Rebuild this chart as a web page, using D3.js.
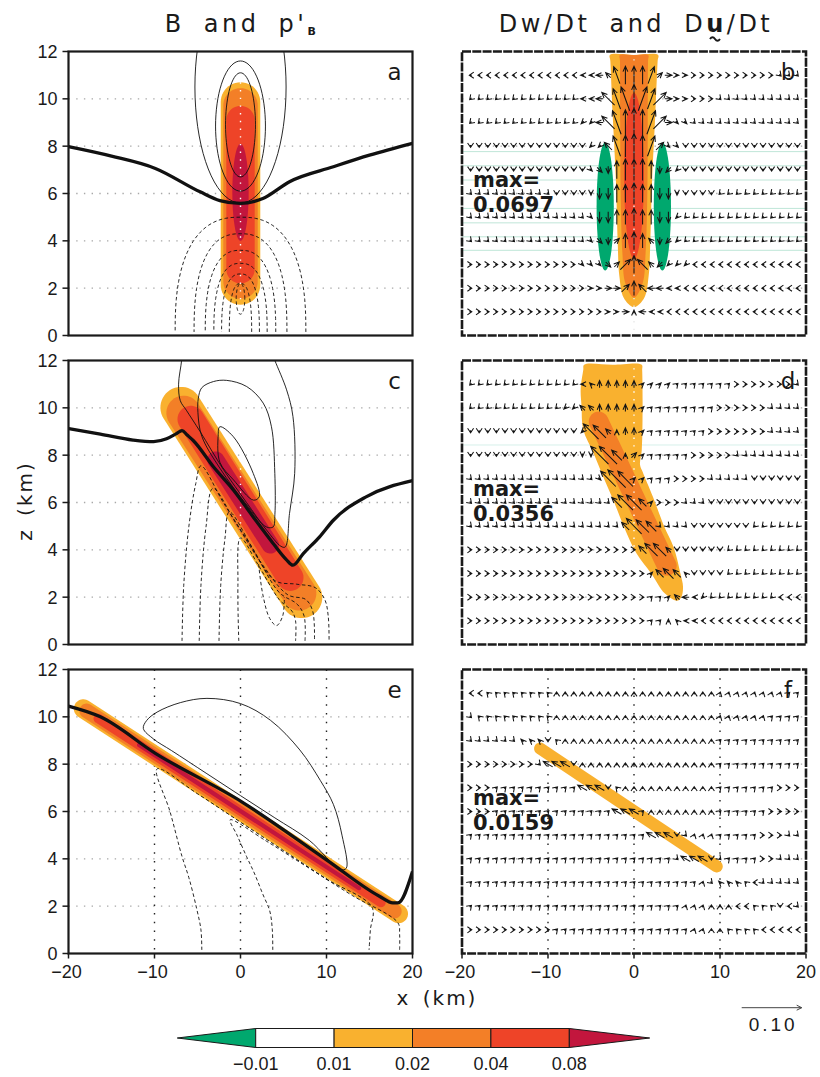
<!DOCTYPE html>
<html>
<head>
<meta charset="utf-8">
<script src="https://cdn.jsdelivr.net/npm/d3@7"></script>
<style>
  body { margin: 0; background: #fff; }
  svg { display: block; }
  text { font-family: "Liberation Sans", Arial, sans-serif; fill: #1a1a1a; }
  .geo { font-family: "DejaVu Sans", "Liberation Sans", sans-serif; }
</style>
</head>
<body>
<svg id="chart" width="820" height="1077"></svg>
<script>
// ---- axes ----
var xTicks = [-20, -10, 0, 10, 20];
var zTicks = [0, 2, 4, 6, 8, 10, 12];
var zGrid = [2, 4, 6, 8, 10];
var xDotted = [-10, 0, 10];

// ---- shading levels (colour bar) ----
var shadeLabels = ["\u22120.01", "0.01", "0.02", "0.04", "0.08"];
var shadeColours = ["#00a86e", "#ffffff", "#f9b12f", "#f37f27", "#ee4428", "#c2163d"];

var maxLabels = ["0.0697", "0.0356", "0.0159"];
var refVector = 0.10;

// ---- thick black line (left column) ----
var thickA = [[-20, 7.98], [-15, 7.58], [-9.9, 7.06], [-4.7, 6.07], [-2.4, 5.7], [0, 5.58], [2.6, 5.79], [5.7, 6.5], [10.8, 7.13], [15, 7.62], [20, 8.12]];
var thickC = [[-20, 9.12], [-16.3, 8.89], [-12.5, 8.64], [-10.1, 8.57], [-8.6, 8.69], [-7.5, 8.9], [-6.8, 9.04], [-6.2, 8.85], [-5.5, 8.62], [-3.15, 7.51], [-0.83, 6.53], [1.48, 5.39], [3.8, 4.27], [5.3, 3.6], [6.1, 3.35], [7.3, 3.84], [9.2, 4.55], [10.8, 5.25], [14.6, 6.24], [20, 6.92]];
var thickE = [[-20, 10.45], [-16.3, 10.0], [-9.9, 8.46], [0.1, 6.42], [10.0, 3.96], [16.2, 2.41], [17.7, 2.14], [18.3, 2.14], [20, 3.47]];

// ---- p'B contours ----
// panel a: solid ellipses [x, z, half width, half height]
var posA = [[0, 8.9, 1.74, 2.2], [0, 8.85, 2.9, 2.75], [0, 10.5, 5.3, 4.9]];
// panel a: dashed arches standing on the ground [half width, top]
var negA = [[7.6, 5.0], [5.4, 4.3], [4.1, 3.6], [3.1, 3.05], [2.2, 2.6], [1.3, 2.2]];
var negLoopA = [[0, 1.55, 0.5, 0.65]];

var posC = [
  {closed: false, pts: [[-6.8, 12.4], [-6.85, 12], [-7.2, 11.0], [-7.0, 10.3], [-6.3, 9.9], [-4.7, 9.0], [-2.0, 7.4], [0.7, 6.0], [3.0, 4.85], [4.7, 4.15], [5.2, 4.12], [5.7, 5.54], [6.3, 7.23], [6.1, 9.63], [5.36, 10.76], [4.0, 12.0], [3.6, 12.4]]},
  {closed: true, pts: [[-4.9, 10.41], [-4.5, 10.85], [-3.15, 11.11], [-1.6, 11.16], [0.72, 10.9], [2.64, 10.2], [3.6, 9.2], [3.99, 7.23], [4.0, 5.5], [3.8, 4.97], [3.0, 4.97], [0.72, 5.9], [-2.4, 7.45], [-4.5, 8.8], [-4.95, 9.8]]},
  {closed: true, pts: [[-2.4, 9.2], [-0.83, 8.78], [1.48, 7.23], [2.18, 6.24], [1.5, 6.1], [-0.8, 6.95], [-2.4, 7.7], [-2.6, 8.8]]}
];
var negC = [
  {closed: false, pts: [[-6.8, 0.15], [-6.6, 2.5], [-6.0, 5.0], [-5.2, 6.8], [-4.6, 7.55], [-2.0, 6.0], [1.0, 4.3], [4.0, 2.7], [6.5, 2.55], [8.7, 2.4], [9.8, 1.9], [10.2, 1.2], [10.3, 0.15]]},
  {closed: false, pts: [[-4.8, 0.15], [-4.6, 2.5], [-4.0, 5.0], [-3.2, 6.6], [-0.5, 5.1], [2.5, 3.4], [5.5, 2.1], [7.6, 1.9], [8.4, 1.4], [8.6, 0.15]]},
  {closed: false, pts: [[-2.5, 0.15], [-2.3, 2.5], [-1.8, 4.5], [-1.3, 5.6], [1.5, 4.0], [4.5, 2.2], [6.6, 1.7], [7.4, 1.2], [7.5, 0.15]]},
  {closed: false, pts: [[-0.2, 0.15], [-0.3, 2.5], [0.0, 4.5], [2.0, 3.4], [4.5, 1.9], [6.0, 1.4], [6.4, 1.0], [6.4, 0.15]]},
  {closed: false, pts: [[2.1, 3.4], [2.6, 2.1], [3.4, 1.1], [4.2, 0.8], [4.9, 1.2], [5.1, 2.0]]}
];
var posE = [
  {closed: true, pts: [[-11.3, 9.51], [-10.9, 9.85], [-9.7, 10.2], [-7.0, 10.6], [-3.9, 10.78], [0, 10.56], [3.5, 9.85], [6.9, 8.6], [9.3, 7.3], [10.8, 6.3], [11.8, 5.0], [12.3, 3.6], [11.6, 3.55], [8, 4.78], [4, 5.73], [0, 6.67], [-4, 7.62], [-8, 8.57], [-10.1, 9.06]]}
];
var negE = [
  {closed: false, pts: [[-4.5, 0.15], [-4.6, 1.0], [-5.1, 1.9], [-6.0, 3.2], [-6.8, 4.1], [-8.2, 6.0], [-9.7, 7.8], [-5, 6.75], [0, 5.55], [5, 4.35], [10, 3.15], [15.3, 1.95], [15.1, 1.0], [14.95, 0.15]]},
  {closed: false, pts: [[3.75, 0.15], [3.7, 1.0], [3.4, 1.8], [2.6, 2.5], [1.6, 3.4], [0.7, 4.1], [-0.4, 5.0], [-1.2, 5.65], [3, 4.75], [8, 3.6], [13, 2.45], [18.3, 1.3], [18.5, 0.8], [18.5, 0.15]]}
];

// ---- shaded regions (c = index into shadeColours) ----
var fillsA = [
  {c: 2, capsule: [[0, 1.3], [0, 10.7]], half: 2.3},
  {c: 3, capsule: [[0, 1.55], [0, 10.45]], half: 2.0},
  {c: 4, capsule: [[0, 2.2], [0, 9.7]], half: 1.65},
  {c: 5, ellipse: [0, 6.05], rx: 0.95, rz: 2.05}
];
var fillsC = [
  {c: 2, capsule: [[-8.2, 10.75], [8.4, 1.25]], half: 2.4},
  {c: 3, capsule: [[-7.7, 10.4], [7.9, 1.55]], half: 2.0},
  {c: 4, capsule: [[-6.6, 10.0], [6.6, 2.35]], half: 1.55},
  {c: 5, capsule: [[-3.4, 8.1], [4.0, 3.9]], half: 1.0}
];
var fillsE = [
  {c: 2, capsule: [[-19.2, 10.56], [19.3, 1.46]], half: 1.1},
  {c: 3, capsule: [[-18.6, 10.42], [18.6, 1.62]], half: 0.85},
  {c: 4, capsule: [[-17.0, 10.04], [16.8, 2.05]], half: 0.56},
  {c: 5, capsule: [[-12.0, 8.86], [14.0, 2.71]], half: 0.25}
];
var fillsB = [
  {c: 0, ellipse: [-3.35, 5.45], rx: 1.0, rz: 2.7},
  {c: 0, ellipse: [3.3, 5.45], rx: 1.0, rz: 2.7},
  {c: 2, poly: [[-2.8, 11.85], [0, 11.85], [2.8, 11.85], [2.75, 11.6], [2.5, 9.5], [2.1, 6.5], [1.9, 4], [1.7, 2.5], [1.2, 1.6], [0, 1.2], [-1.2, 1.6], [-1.7, 2.5], [-1.9, 4], [-2.1, 6.5], [-2.5, 9.5], [-2.75, 11.6]]},
  {c: 3, poly: [[-1.65, 11.85], [0, 11.85], [1.65, 11.85], [1.63, 11.6], [1.6, 9], [1.55, 6], [1.35, 3.5], [1.0, 2.2], [0, 1.6], [-1.0, 2.2], [-1.35, 3.5], [-1.55, 6], [-1.6, 9], [-1.63, 11.6]]},
  {c: 4, ellipse: [0, 6.75], rx: 1.15, rz: 3.5}
];
var fillsD = [
  {c: 2, poly: [[-5.8, 11.82], [-2.5, 11.82], [0.9, 11.82], [0.95, 11.6], [1.0, 10.0], [0.9, 8.2], [0.7, 7.6], [1.0, 7.3], [2.2, 6.24], [3.5, 5.0], [4.6, 4.12], [5.4, 3.0], [5.7, 2.43], [5.5, 2.0], [5.0, 1.85], [3.6, 2.15], [2.0, 3.0], [0.3, 3.84], [-1.2, 5.0], [-2.4, 6.1], [-3.6, 7.1], [-4.7, 8.08], [-5.9, 9.07], [-6.1, 10.06], [-6.2, 10.8], [-5.9, 11.6]]},
  {c: 3, capsule: [[-4.6, 9.8], [4.3, 2.95]], half: 1.15}
];
var fillsF = [
  {c: 2, capsule: [[-11.5, 8.8], [10.2, 3.54]], half: 0.7}
];
// faint seams visible in the shading of panels b and d
var seamsB = [7.77, 7.17, 6.57, 5.37, 4.76, 4.17, 3.6];
var seamsD = [8.43];

// ---- acceleration vectors ----
var vecX = [-19, -18, -17, -16, -15, -14, -13, -12, -11, -10, -9, -8, -7, -6, -5, -4, -3, -2, -1, 0, 1, 2, 3, 4, 5, 6, 7, 8, 9, 10, 11, 12, 13, 14, 15, 16, 17, 18, 19];
var vecZ = [11, 10, 9, 8, 7, 6, 5, 4, 3, 2, 1];
// direction code (numpad style) -> degrees
var dirAngle = {"6": 0, "9": 45, "e": 70, "8": 90, "q": 110, "7": 135, "a": 150, "4": 180, "1": 225, "2": 270, "3": 315};
var magStep = 0.006;   // one magnitude digit

var dirB = [
  "4444444444444444" + "7q888e9" + "6666666666666" + "333",
  "1111111111111" + "4447qq8ee96" + "66666" + "3333333333",
  "111111111111111" + "47q888e96" + "333333333333333",
  "22222222222222" + "117q888e933" + "22222222222222",
  "22222222222222" + "33288888211" + "22222222222222",
  "3333333333" + "2222222" + "88888" + "2222222" + "1111111111",
  "333333333333333" + "22" + "88888" + "22" + "111111111111111",
  "3333333333333333" + "2988872" + "1111111111111111",
  "6666666666666" + "3333" + "99877" + "1111" + "4444444444444",
  "666666666666666666" + "987" + "444444444444444444",
  "6666666666666666666" + "8" + "4444444444444444444"
];
var magB = [
  "0000000000000" + "1122555552211" + "0000000000000",
  "0000000000000" + "1125678765211" + "0000000000000",
  "0000000000000" + "1125778775211" + "0000000000000",
  "00000000000000" + "11366766311" + "00000000000000",
  "00000000000000" + "12256665221" + "00000000000000",
  "00000000000000" + "13355655331" + "00000000000000",
  "00000000000000" + "13344544331" + "00000000000000",
  "00000000000000" + "12224542221" + "00000000000000",
  "0000000000000" + "1112245422111" + "0000000000000",
  "00000000000000" + "11223432211" + "00000000000000",
  "0000000000000000" + "1121211" + "0000000000000000"
];
var dirD = [
  "1111111111111" + "47" + "88888" + "99999999999" + "6666666" + "3",
  "1111111111111" + "77" + "88888" + "999999999" + "666666" + "3333",
  "2222222222222" + "1" + "777" + "888" + "99999999" + "6666666" + "3333",
  "222222222222222" + "777" + "8" + "9999999" + "66666" + "33333333",
  "3333333333333333" + "777" + "99999" + "6666" + "33333" + "222222",
  "33333333333333333" + "7777" + "9" + "666" + "333" + "22222222222",
  "333333333333333333" + "7777" + "3333" + "2222222" + "111111",
  "66666666666666666666" + "7777" + "222222" + "111111111",
  "666666666666666666666" + "97777" + "2222" + "111111111",
  "666666666666666666666" + "999744" + "111111111" + "444",
  "666666666666666666666" + "9987" + "44444444444444"
];
var magD = [
  "0000000000000" + "11222221111" + "000000000000000",
  "00000000000" + "1122222221" + "000000000000000000",
  "0000000000000" + "16521221" + "000000000000000000",
  "0000000000000" + "11774121" + "000000000000000000",
  "000000000000000" + "167611" + "000000000000000000",
  "00000000000000000" + "46631" + "00000000000000000",
  "000000000000000000" + "3654" + "00000000000000000",
  "00000000000000000000" + "3552" + "000000000000000",
  "000000000000000000000" + "13431" + "0000000000000",
  "000000000000000000000" + "0012211" + "00000000000",
  "000000000000000000000" + "001111" + "000000000000"
];
var dirF = [
  "44" + "77777777" + "8888888888888888888" + "eeeeeeee" + "99",
  "3" + "777777777" + "8888888888888888888" + "eeeeee" + "9999",
  "333333" + "777" + "2" + "7" + "888888888888888888" + "9999999999",
  "66666666" + "3" + "aaa" + "2" + "8888888888888888" + "9999999999",
  "666" + "9999999999" + "aaa" + "2" + "7" + "88888888888" + "9999999" + "666",
  "666" + "99999999999999" + "aaa" + "9" + "88888888" + "999999" + "6666",
  "999999999999999999999" + "aaa" + "2" + "3" + "eee" + "99999" + "666" + "33",
  "999999999999999999999999" + "3" + "aaa" + "2" + "3" + "9999" + "66" + "333",
  "999999999999999999999999999" + "e" + "3" + "777" + "7" + "4" + "33333",
  "9999999999999999999999999" + "eee" + "888" + "44" + "777" + "2" + "4" + "3",
  "6666666666" + "9999999999999999" + "ee" + "88" + "7777" + "44444"
];
var magF = [
  "",
  "",
  "000000" + "111",
  "000000000" + "333",
  "0000000000000" + "333",
  "00000000000000000" + "333",
  "000000000000000000000" + "333",
  "0000000000000000000000000" + "333",
  "00000000000000000000000000000" + "111",
  "",
  ""
];

[dirB, dirD, dirF].forEach(function (rows, p) {
  rows.forEach(function (r, i) {
    if (r.length !== vecX.length) throw new Error("vector row " + p + "/" + i + " has " + r.length);
  });
});

// ---- layout ----
var svg = d3.select("#chart");
var plotW = 344, plotH = 284;
var colLeft = [68.5, 462];
var rowTop = [51.5, 360.5, 669.5];
var vecLen = d3.scaleLinear().domain([0, refVector]).range([0, 60]);

function scalesFor(col, row) {
  var x0 = colLeft[col], y0 = rowTop[row];
  return {
    x: d3.scaleLinear().domain([-20, 20]).range([x0, x0 + plotW]),
    z: d3.scaleLinear().domain([0, 12]).range([y0 + plotH, y0])
  };
}

function ellipsePts(cx, cz, rx, rz, sc) {
  var pts = [];
  for (var i = 0; i <= 72; i++) {
    var t = 2 * Math.PI * i / 72;
    pts.push([sc.x(cx + rx * Math.cos(t)), sc.z(cz + rz * Math.sin(t))]);
  }
  return pts;
}

function capsulePts(p0, p1, w) {
  var dx = p1[0] - p0[0], dy = p1[1] - p0[1], len = Math.sqrt(dx * dx + dy * dy);
  var ux = dx / len, uy = dy / len, nx = -uy, ny = ux;
  var a = [p0[0] + ux * w, p0[1] + uy * w], b = [p1[0] - ux * w, p1[1] - uy * w];
  var pts = [], i, t;
  for (i = 0; i <= 24; i++) {
    t = Math.PI / 2 - Math.PI * i / 24;
    pts.push([b[0] + w * (ux * Math.cos(t) + nx * Math.sin(t)), b[1] + w * (uy * Math.cos(t) + ny * Math.sin(t))]);
  }
  for (i = 0; i <= 24; i++) {
    t = -Math.PI / 2 - Math.PI * i / 24;
    pts.push([a[0] + w * (ux * Math.cos(t) + nx * Math.sin(t)), a[1] + w * (uy * Math.cos(t) + ny * Math.sin(t))]);
  }
  return pts;
}

function drawFills(g, sc, fills) {
  var kx = sc.x(1) - sc.x(0);
  fills.forEach(function (f) {
    var d;
    if (f.capsule) {
      d = d3.line()(capsulePts([sc.x(f.capsule[0][0]), sc.z(f.capsule[0][1])],
                               [sc.x(f.capsule[1][0]), sc.z(f.capsule[1][1])], f.half * kx)) + "Z";
    } else if (f.ellipse) {
      d = d3.line()(ellipsePts(f.ellipse[0], f.ellipse[1], f.rx, f.rz, sc)) + "Z";
    } else {
      d = d3.line().x(function (p) { return sc.x(p[0]); }).y(function (p) { return sc.z(p[1]); })
        .curve(d3.curveCatmullRomClosed.alpha(0.5))(f.poly);
    }
    g.append("path").attr("d", d).attr("fill", shadeColours[f.c]);
  });
}

function drawCurves(g, sc, list, dashed) {
  list.forEach(function (cv) {
    var line = d3.line().x(function (p) { return sc.x(p[0]); }).y(function (p) { return sc.z(p[1]); })
      .curve(cv.closed ? d3.curveCatmullRomClosed.alpha(0.5) : d3.curveCatmullRom.alpha(0.5));
    g.append("path").attr("d", line(cv.pts)).attr("fill", "none").attr("stroke", "#111")
      .attr("stroke-width", 0.9).attr("stroke-dasharray", dashed ? "3.5,2.5" : null);
  });
}

function drawEllipses(g, sc, list, dashed) {
  list.forEach(function (e) {
    g.append("path").attr("d", d3.line()(ellipsePts(e[0], e[1], e[2], e[3], sc)) + "Z")
      .attr("fill", "none").attr("stroke", "#111").attr("stroke-width", 0.9)
      .attr("stroke-dasharray", dashed ? "3.5,2.5" : null);
  });
}

function drawArches(g, sc, list) {
  list.forEach(function (a) {
    var pts = [];
    for (var i = 0; i <= 60; i++) {
      var t = Math.PI * i / 60, c = Math.cos(t), s = Math.sin(t);
      pts.push([sc.x(a[0] * (c < 0 ? -1 : 1) * Math.pow(Math.abs(c), 0.8)), sc.z(0.15 + (a[1] - 0.15) * Math.pow(s, 0.8))]);
    }
    g.append("path").attr("d", d3.line()(pts)).attr("fill", "none").attr("stroke", "#111")
      .attr("stroke-width", 0.9).attr("stroke-dasharray", "3.5,2.5");
  });
}

function drawVectors(g, sc, dirs, mags) {
  var d = "";
  dirs.forEach(function (row, r) {
    var z = vecZ[r];
    for (var i = 0; i < row.length; i++) {
      var ch = row[i];
      if (!(ch in dirAngle)) continue;
      var k = +(mags[r][i] || 0);
      var ang = dirAngle[ch] * Math.PI / 180;
      var ux = Math.cos(ang), uy = -Math.sin(ang);
      var L = k === 0 ? 2.5 : vecLen(k * magStep);
      var px = sc.x(vecX[i]), pz = sc.z(z);
      var x1 = px - ux * L / 2, y1 = pz - uy * L / 2, x2 = px + ux * L / 2, y2 = pz + uy * L / 2;
      var hb = k === 0 ? 5.4 : 6, ha = k === 0 ? 0.6 : 0.42;
      var bx = -ux, by = -uy;
      var b1x = x2 + hb * (bx * Math.cos(ha) - by * Math.sin(ha)), b1y = y2 + hb * (bx * Math.sin(ha) + by * Math.cos(ha));
      var b2x = x2 + hb * (bx * Math.cos(-ha) - by * Math.sin(-ha)), b2y = y2 + hb * (bx * Math.sin(-ha) + by * Math.cos(-ha));
      d += "M" + x1.toFixed(1) + "," + y1.toFixed(1) + "L" + x2.toFixed(1) + "," + y2.toFixed(1) +
           "M" + b1x.toFixed(1) + "," + b1y.toFixed(1) + "L" + x2.toFixed(1) + "," + y2.toFixed(1) +
           "L" + b2x.toFixed(1) + "," + b2y.toFixed(1);
    }
  });
  g.append("path").attr("d", d).attr("fill", "none").attr("stroke", "#141414")
    .attr("stroke-width", 1.05).attr("stroke-linejoin", "miter");
}

function panelBase(id, col, row) {
  var sc = scalesFor(col, row);
  var x0 = colLeft[col], y0 = rowTop[row];
  svg.append("clipPath").attr("id", "clip-" + id).append("rect")
    .attr("x", x0).attr("y", y0).attr("width", plotW).attr("height", plotH);
  var g = svg.append("g").attr("clip-path", "url(#clip-" + id + ")");
  // gray dotted grid rows
  g.selectAll(".hz").data(zGrid).enter().append("line")
    .attr("x1", x0).attr("x2", x0 + plotW)
    .attr("y1", function (d) { return sc.z(d); }).attr("y2", function (d) { return sc.z(d); })
    .attr("stroke", "#a8a8a8").attr("stroke-width", 1.3).attr("stroke-dasharray", "1.4,6.3");
  return {sc: sc, g: g, x0: x0, y0: y0};
}

function verticalDots(p, xs, colour, dash) {
  p.g.selectAll(null).data(xs).enter().append("line")
    .attr("x1", function (d) { return p.sc.x(d); }).attr("x2", function (d) { return p.sc.x(d); })
    .attr("y1", p.y0).attr("y2", p.y0 + plotH)
    .attr("stroke", colour).attr("stroke-width", 1.4).attr("stroke-dasharray", dash);
}

function frame(p, dashed) {
  svg.append("rect").attr("x", p.x0).attr("y", p.y0).attr("width", plotW).attr("height", plotH)
    .attr("fill", "none").attr("stroke", "#1a1a1a").attr("stroke-width", dashed ? 2.6 : 2.2)
    .attr("stroke-dasharray", dashed ? "9,1.3" : null);
}

function letter(p, txt) {
  svg.append("text").attr("class", "geo").attr("x", p.x0 + plotW - 18).attr("y", p.y0 + 28)
    .attr("text-anchor", "middle").attr("font-size", 23).text(txt);
}

function yAxis(p) {
  zTicks.forEach(function (t) {
    svg.append("line").attr("x1", p.x0 - 6).attr("x2", p.x0).attr("y1", p.sc.z(t)).attr("y2", p.sc.z(t))
      .attr("stroke", "#1a1a1a").attr("stroke-width", 1.5);
    svg.append("text").attr("x", p.x0 - 11).attr("y", p.sc.z(t)).attr("dy", "0.36em")
      .attr("text-anchor", "end").attr("font-size", 18).text(t);
  });
}

function xAxis(p) {
  xTicks.forEach(function (t) {
    svg.append("line").attr("x1", p.sc.x(t)).attr("x2", p.sc.x(t)).attr("y1", p.y0 + plotH).attr("y2", p.y0 + plotH + 5)
      .attr("stroke", "#1a1a1a").attr("stroke-width", 1.5);
    svg.append("text").attr("x", p.sc.x(t) + (t < 0 ? -2 : 0)).attr("y", p.y0 + plotH + 24)
      .attr("text-anchor", "middle").attr("font-size", 18).text(t < 0 ? "\u2212" + Math.abs(t) : t);
  });
}

function thickLine(p, pts) {
  p.g.append("path").attr("d", d3.line().x(function (d) { return p.sc.x(d[0]); }).y(function (d) { return p.sc.z(d[1]); })
    .curve(d3.curveMonotoneX)(pts)).attr("fill", "none").attr("stroke", "#111").attr("stroke-width", 3.3);
}

function maxText(p, val) {
  var t = svg.append("text").attr("class", "geo").attr("x", p.x0 + 11).attr("font-size", 21)
    .attr("font-weight", "bold");
  t.append("tspan").attr("x", p.x0 + 11).attr("y", p.y0 + 135).text("max=");
  t.append("tspan").attr("x", p.x0 + 11).attr("y", p.y0 + 160).text(val);
}

function seams(p, zs, colour) {
  p.g.selectAll(null).data(zs).enter().append("line")
    .attr("x1", p.x0).attr("x2", p.x0 + plotW)
    .attr("y1", function (d) { return p.sc.z(d); }).attr("y2", function (d) { return p.sc.z(d); })
    .attr("stroke", colour).attr("stroke-width", 1);
}

// ---- panel a ----
var pa = panelBase("a", 0, 0);
drawFills(pa.g, pa.sc, fillsA);
verticalDots(pa, [0], "#ffffff", "1.4,6.3");
drawEllipses(pa.g, pa.sc, posA, false);
drawArches(pa.g, pa.sc, negA);
drawEllipses(pa.g, pa.sc, negLoopA, true);
thickLine(pa, thickA);
frame(pa, false); yAxis(pa); letter(pa, "a");

// ---- panel c ----
var pc = panelBase("c", 0, 1);
drawFills(pc.g, pc.sc, fillsC);
verticalDots(pc, [0], "#ffffff", "1.4,6.3");
drawCurves(pc.g, pc.sc, posC, false);
drawCurves(pc.g, pc.sc, negC, true);
thickLine(pc, thickC);
frame(pc, false); yAxis(pc); letter(pc, "c");

// ---- panel e ----
var pe = panelBase("e", 0, 2);
verticalDots(pe, xDotted, "#222", "1.5,7.2");
drawFills(pe.g, pe.sc, fillsE);
drawCurves(pe.g, pe.sc, posE, false);
drawCurves(pe.g, pe.sc, negE, true);
thickLine(pe, thickE);
frame(pe, false); yAxis(pe); xAxis(pe); letter(pe, "e");

// ---- panel b ----
var pb = panelBase("b", 1, 0);
seams(pb, seamsB, "#bfe6d8");
drawFills(pb.g, pb.sc, fillsB);
verticalDots(pb, [0], "#e8e8e8", "1.4,6.3");
drawVectors(pb.g, pb.sc, dirB, magB);
frame(pb, true); letter(pb, "b"); maxText(pb, maxLabels[0]);

// ---- panel d ----
var pd = panelBase("d", 1, 1);
seams(pd, seamsD, "#d7f0ea");
drawFills(pd.g, pd.sc, fillsD);
verticalDots(pd, [0], "#ffffff", "1.4,6.3");
drawVectors(pd.g, pd.sc, dirD, magD);
frame(pd, true); letter(pd, "d"); maxText(pd, maxLabels[1]);

// ---- panel f ----
var pf = panelBase("f", 1, 2);
verticalDots(pf, xDotted, "#222", "1.5,7.2");
drawFills(pf.g, pf.sc, fillsF);
drawVectors(pf.g, pf.sc, dirF, magF);
frame(pf, true); xAxis(pf); letter(pf, "f"); maxText(pf, maxLabels[2]);

// ---- titles ----
var t1 = svg.append("text").attr("class", "geo").attr("x", 242).attr("y", 32).attr("text-anchor", "middle")
  .attr("font-size", 24).style("letter-spacing", "3.5px").style("word-spacing", "8px");
t1.append("tspan").text("B and p'");
t1.append("tspan").attr("font-size", 11).attr("font-weight", "bold").attr("dy", 3).text("B");

var t2 = svg.append("text").attr("class", "geo").attr("x", 636).attr("y", 32).attr("text-anchor", "middle")
  .attr("font-size", 24).style("letter-spacing", "3.5px").style("word-spacing", "8px");
t2.append("tspan").text("Dw/Dt and D");
t2.append("tspan").attr("font-weight", "bold").text("u");
t2.append("tspan").text("/Dt");
var uIdx = "Dw/Dt and Du/Dt".indexOf("u");
var uS = t2.node().getStartPositionOfChar(uIdx), uE = t2.node().getEndPositionOfChar(uIdx);
var uc = (uS.x + uE.x) / 2 - 1.5;
svg.append("path").attr("d", "M" + (uc - 5) + ",39 q2.5,-3.5 5,0 t5,0")
  .attr("fill", "none").attr("stroke", "#1a1a1a").attr("stroke-width", 2);

// ---- axis titles ----
svg.append("text").attr("class", "geo").attr("transform", "translate(32,501) rotate(-90)")
  .attr("text-anchor", "middle").attr("font-size", 20).style("letter-spacing", "2px").style("word-spacing", "4px")
  .text("z (km)");
svg.append("text").attr("class", "geo").attr("x", 437).attr("y", 1005)
  .attr("text-anchor", "middle").attr("font-size", 20).style("letter-spacing", "2px").style("word-spacing", "4px")
  .text("x (km)");

// ---- colour bar ----
var cbX = d3.scaleLinear().domain([0, shadeLabels.length - 1]).range([255.7, 569.3]);
var cbTop = 1028.5, cbH = 19, cbStep = cbX(1) - cbX(0);
var cb = svg.append("g");
cb.append("path").attr("d", "M" + cbX(0) + "," + cbTop + "L" + (cbX(0) - cbStep) + "," + (cbTop + cbH / 2) + "L" + cbX(0) + "," + (cbTop + cbH) + "Z")
  .attr("fill", shadeColours[0]).attr("stroke", "#1a1a1a").attr("stroke-width", 1);
for (var i = 0; i < shadeLabels.length - 1; i++) {
  cb.append("rect").attr("x", cbX(i)).attr("y", cbTop).attr("width", cbStep).attr("height", cbH)
    .attr("fill", shadeColours[i + 1]).attr("stroke", "#1a1a1a").attr("stroke-width", 1);
}
var last = cbX(shadeLabels.length - 1);
cb.append("path").attr("d", "M" + last + "," + cbTop + "L" + (last + cbStep + 2) + "," + (cbTop + cbH / 2) + "L" + last + "," + (cbTop + cbH) + "Z")
  .attr("fill", shadeColours[shadeColours.length - 1]).attr("stroke", "#1a1a1a").attr("stroke-width", 1);
cb.selectAll("text").data(shadeLabels).enter().append("text")
  .attr("x", function (d, i) { return cbX(i); }).attr("y", 1070).attr("text-anchor", "middle")
  .attr("font-size", 18).text(function (d) { return d; });

// ---- reference vector ----
var refX0 = 741.7, refY = 1007.7;
svg.append("path").attr("d", "M" + refX0 + "," + refY + "H" + (refX0 + vecLen(refVector)) +
    "M" + (refX0 + vecLen(refVector) - 5) + "," + (refY - 2.5) + "L" + (refX0 + vecLen(refVector)) + "," + refY +
    "L" + (refX0 + vecLen(refVector) - 5) + "," + (refY + 2.5))
  .attr("fill", "none").attr("stroke", "#444").attr("stroke-width", 1);
svg.append("text").attr("x", refX0 + vecLen(refVector) / 2 + 1.5).attr("y", 1031).attr("text-anchor", "middle")
  .attr("font-size", 19).style("letter-spacing", "3px").attr("fill", "#333").text(refVector.toFixed(2));
</script>
</body>
</html>
